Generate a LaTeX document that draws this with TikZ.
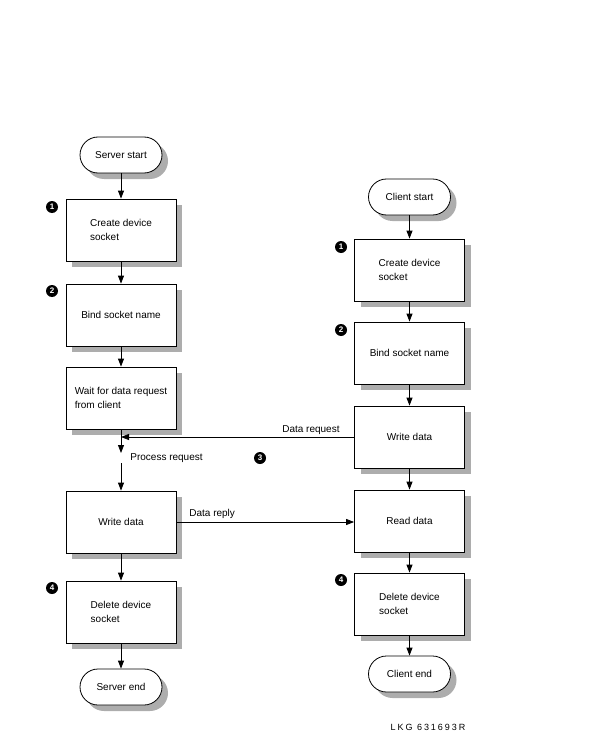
\documentclass[tikz,border=0pt]{standalone}
\usepackage{fontspec}
\setmainfont{Liberation Sans}
\usetikzlibrary{shapes.misc,shadows,arrows.meta}
\begin{document}
\begin{tikzpicture}[x=1pt,y=-1pt,line width=0.8pt,
  font=\fontsize{10}{14}\selectfont,
  boxshadow/.style={drop shadow={shadow xshift=6pt,shadow yshift=-6pt,fill=black!32,opacity=1}},
  procbox/.style={draw,fill=white,rectangle,minimum width=110pt,minimum height=62pt,inner sep=0pt,align=left,boxshadow},
  termnode/.style={draw,fill=white,rounded rectangle,minimum width=82pt,minimum height=36pt,inner sep=0pt,boxshadow},
  badge/.style={circle,fill=black,text=white,inner sep=0pt,minimum size=12pt,font=\fontsize{8}{8}\selectfont\bfseries},
  flow/.style={-{Triangle[length=8pt,width=6pt]}},
  lbl/.style={inner sep=0pt}
]
\useasboundingbox (0,0) rectangle (599,746);

% left column
\node[termnode] (sstart) at (121,155) {Server start};
\node[procbox] (b1) at (121,230) {Create device\\socket};
\node[procbox] (b2) at (121,315) {Bind socket name};
\node[procbox] (b3) at (121,398) {Wait for data request\\from client};
\node[procbox] (b4) at (121,522) {Write data};
\node[procbox] (b5) at (121,612) {Delete device\\socket};
\node[termnode] (send) at (121,687) {Server end};

% right column
\node[termnode] (cstart) at (409.5,197) {Client start};
\node[procbox] (r1) at (409.5,270) {Create device\\socket};
\node[procbox] (r2) at (409.5,353) {Bind socket name};
\node[procbox] (r3) at (409.5,437) {Write data};
\node[procbox] (r4) at (409.5,521) {Read data};
\node[procbox] (r5) at (409.5,604) {Delete device\\socket};
\node[termnode] (cend) at (409.5,674) {Client end};

% badges
\node[badge] (n1l) at (52,207) {1};
\node[badge] (n2l) at (52,291) {2};
\node[badge] (n4l) at (52,588) {4};
\node[badge] (n1r) at (341,247) {1};
\node[badge] (n2r) at (341,330) {2};
\node[badge] (n3) at (260,458) {3};
\node[badge] (n4r) at (341,580) {4};

% left flow
\draw[flow] (sstart.south) -- (b1.north);
\draw[flow] (b1.south) -- (b2.north);
\draw[flow] (b2.south) -- (b3.north);
\coordinate (p1) at (121,453);
\coordinate (p2) at (121,463);
\draw[flow] (b3.south) -- (p1);
\node[lbl,anchor=west] (proc) at (130,458) {Process request};
\draw[flow] (p2) -- (b4.north);
\draw[flow] (b4.south) -- (b5.north);
\draw[flow] (b5.south) -- (send.north);

% right flow
\draw[flow] (cstart.south) -- (r1.north);
\draw[flow] (r1.south) -- (r2.north);
\draw[flow] (r2.south) -- (r3.north);
\draw[flow] (r3.south) -- (r4.north);
\draw[flow] (r4.south) -- (r5.north);
\draw[flow] (r5.south) -- (cend.north);

% cross messages
\coordinate (reqend) at (121,437);
\draw[flow] (r3.west) -- (reqend);
\node[lbl,anchor=east] (reqlbl) at (340,430) {Data request};
\draw[flow] (b4.east) -- (b4.east -| r4.west);
\node[lbl,anchor=west] (replbl) at (189,514) {Data reply};

\node[lbl] (code) at (428,727) {\fontsize{9}{9}\selectfont\addfontfeature{LetterSpace=22}LKG 631693R};
\end{tikzpicture}
\end{document}
